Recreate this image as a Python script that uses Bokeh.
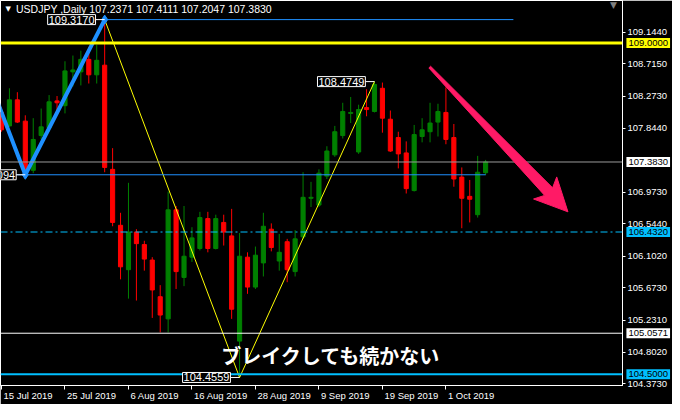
import math
import pandas as pd
from bokeh.plotting import figure
from bokeh.models import Range1d, FixedTicker, PrintfTickFormatter, Span, Label, LinearAxis
from bokeh.core.properties import value
from bokeh.embed import file_html
from bokeh.resources import INLINE

# ---------------- data ----------------
SYMBOL = "USDJPY"
TIMEFRAME = "Daily"
DATES = pd.bdate_range("2019-07-15", periods=62)

OPEN = [108.056, 107.873, 108.227, 107.938, 107.270, 107.742, 107.846, 108.213, 108.148, 108.607,
        108.607, 108.777, 108.567, 108.698, 107.283, 106.523, 105.920, 106.431, 106.261, 106.051,
        105.553, 105.252, 106.733, 105.815, 106.090, 106.208, 106.614, 106.208, 106.562, 106.379,
        104.950, 106.090, 105.684, 106.012, 106.470, 106.038, 106.300, 105.894, 106.366, 106.890,
        106.798, 107.191, 107.480, 107.742, 108.043, 107.519, 108.122, 108.069, 108.384, 107.964,
        107.715, 107.506, 106.995, 107.729, 107.794, 107.925, 108.056, 107.715, 107.178, 106.916,
        106.667, 107.2371]
HIGH = [108.122, 108.384, 108.331, 108.017, 107.978, 108.109, 108.292, 108.279, 108.751, 108.829,
        108.895, 108.947, 108.974, 109.317, 107.571, 106.693, 107.100, 106.470, 106.313, 106.090,
        105.710, 106.982, 106.785, 106.785, 106.497, 106.706, 106.706, 106.667, 106.667, 106.746,
        106.418, 106.156, 106.234, 106.693, 106.549, 106.405, 106.339, 106.457, 107.244, 107.113,
        107.283, 107.597, 107.873, 108.187, 108.266, 108.161, 108.371, 108.4749, 108.462, 108.082,
        107.794, 107.663, 107.886, 107.978, 108.187, 108.174, 108.397, 107.899, 107.309, 107.139,
        107.466, 107.4111]
LOW = [107.794, 107.860, 107.912, 107.2094, 107.231, 107.689, 107.794, 108.069, 108.043, 108.410,
       108.423, 108.449, 108.449, 107.244, 106.510, 105.789, 105.527, 105.501, 105.907, 105.265,
       105.068, 105.068, 105.658, 105.697, 106.025, 106.182, 106.156, 106.195, 106.248, 105.252,
       104.4559, 105.592, 105.658, 105.828, 106.169, 105.907, 105.750, 105.828, 106.339, 106.772,
       106.772, 107.152, 107.453, 107.702, 107.912, 107.493, 108.004, 108.056, 107.781, 107.519,
       107.296, 106.955, 106.982, 107.650, 107.650, 107.729, 107.624, 107.047, 106.483, 106.562,
       106.628, 107.2047]
CLOSE = [107.820, 108.227, 107.925, 107.270, 107.689, 107.860, 108.200, 108.187, 108.620, 108.633,
         108.777, 108.567, 108.764, 107.309, 106.562, 105.959, 106.431, 106.274, 106.064, 105.645,
         105.304, 106.733, 105.894, 106.103, 106.352, 106.628, 106.208, 106.614, 106.431, 105.383,
         106.103, 105.684, 106.117, 106.510, 106.221, 106.156, 105.920, 106.339, 106.903, 106.903,
         107.231, 107.532, 107.794, 108.069, 108.056, 108.095, 108.095, 108.436, 107.978, 107.532,
         107.493, 107.021, 107.755, 107.820, 107.912, 108.069, 107.689, 107.152, 106.890, 106.877,
         107.244, 107.3830]

TICK_LABELS = ["15 Jul 2019", "25 Jul 2019", "6 Aug 2019", "16 Aug 2019",
               "28 Aug 2019", "9 Sep 2019", "19 Sep 2019", "1 Oct 2019"]
PRICE_TICKS = [104.373, 104.802, 105.231, 105.673, 106.102, 106.544, 106.973,
               107.844, 108.273, 108.715, 109.144]

LEVEL_YELLOW = 109.0
LEVEL_CURRENT = CLOSE[-1]
LEVEL_DASHDOT = 106.432
LEVEL_WHITE = 105.0571
LEVEL_CYAN = 104.5

ZZ_BLUE_IDX = [-1, 3, 13]
ZZ_BLUE_PRICE = [108.343, 107.2094, 109.317]
ZZ_YEL_IDX = [13, 30, 47]
ZZ_YEL_PRICE = [109.317, 104.4559, 108.4749]

RAY_IDX0 = [13, -1]
RAY_IDX1 = [64.5, 61]
RAY_PRICE = [109.317, 107.2094]

ARROW_START = (53.96, 108.672)
ARROW_END = (71.375, 106.706)

NOTE = "ブレイクしても続かない"
NOTE_POS = (41.55, 104.753)

# ---------------- layout ----------------
X_START, X_END = -0.125, 78.25
Y_START, Y_END = 104.347, 109.5765
W, H = 672, 404
RIGHT, BOTTOM = 50, 19
FW, FH = W - RIGHT, H - BOTTOM
kx = FW / (X_END - X_START)
ky = FH / (Y_END - Y_START)

AXIS_FONT = "Liberation Sans"
AXIS_SIZE = 9.5
CHAR_W = {" ": 0.278, "J": 0.5, "u": 0.556, "l": 0.222, "A": 0.667, "g": 0.556, "S": 0.667,
          "e": 0.556, "p": 0.556, "O": 0.778, "c": 0.5, "t": 0.278}
def text_px(s, size):
    return sum(CHAR_W.get(ch, 0.556) for ch in s) * size

idx = list(range(len(OPEN)))
date_str = [f"{d.day} {d.strftime('%b %Y')}" for d in DATES]
TICK_IDX = [date_str.index(t) for t in TICK_LABELS]

p = figure(width=W, height=H,
           x_range=Range1d(X_START, X_END), y_range=Range1d(Y_START, Y_END),
           y_axis_location="right", output_backend="svg", toolbar_location=None,
           background_fill_color="black", border_fill_color="black",
           min_border_left=0, min_border_top=0,
           min_border_right=RIGHT, min_border_bottom=BOTTOM)
p.grid.visible = False
p.outline_line_color = "white"
p.outline_line_width = 1

# bottom axis: tick marks only
xax = p.xaxis[0]
xax.ticker = FixedTicker(ticks=TICK_IDX)
xax.major_label_overrides = {i: "" for i in TICK_IDX}
xax.major_label_text_font_size = "0px"
xax.major_label_standoff = 0
xax.axis_line_color = "white"
xax.major_tick_line_color = "white"
xax.major_tick_out = 4
xax.major_tick_in = 0
xax.minor_tick_line_color = None

# second bottom axis: left-aligned date texts (MT4 style)
label_pos = [i + (text_px(t, AXIS_SIZE) / 2 + 2) / kx for i, t in zip(TICK_IDX, TICK_LABELS)]
xax2 = LinearAxis(ticker=FixedTicker(ticks=label_pos),
                  major_label_overrides={pos: t for pos, t in zip(label_pos, TICK_LABELS)})
xax2.axis_line_color = None
xax2.major_tick_line_color = None
xax2.minor_tick_line_color = None
xax2.major_tick_out = 0
xax2.major_tick_in = 0
xax2.major_label_standoff = 0
xax2.major_label_text_color = "white"
xax2.major_label_text_font = AXIS_FONT
xax2.major_label_text_font_size = f"{AXIS_SIZE}px"
p.add_layout(xax2, "below")

yax = p.yaxis[0]
yax.ticker = FixedTicker(ticks=PRICE_TICKS)
yax.formatter = PrintfTickFormatter(format="%.4f")
yax.axis_line_color = "white"
yax.major_tick_line_color = "white"
yax.major_tick_out = 3
yax.major_tick_in = 0
yax.minor_tick_line_color = None
yax.major_label_standoff = 2
yax.major_label_text_color = "white"
yax.major_label_text_font = AXIS_FONT
yax.major_label_text_font_size = f"{AXIS_SIZE}px"

# ---------------- candles ----------------
BULL, BEAR = "#008000", "#FF0000"
colors = [BULL if c >= o else BEAR for o, c in zip(OPEN, CLOSE)]
tops = [max(o, c) for o, c in zip(OPEN, CLOSE)]
bots = [min(o, c) for o, c in zip(OPEN, CLOSE)]
p.segment(x0=idx, y0=LOW, x1=idx, y1=HIGH, line_color=colors, line_width=1)
p.vbar(x=idx, width=0.52, top=tops, bottom=bots, fill_color=colors, line_color=colors, line_width=1)

# ---------------- zigzags and rays ----------------
p.line(ZZ_YEL_IDX, ZZ_YEL_PRICE, line_color="#FFFF00", line_width=1)
p.line(ZZ_BLUE_IDX, ZZ_BLUE_PRICE, line_color="#1E90FF", line_width=4)
p.scatter(ZZ_BLUE_IDX[1:], ZZ_BLUE_PRICE[1:], marker="diamond", size=9, color="#1E90FF")
p.segment(x0=RAY_IDX0, y0=RAY_PRICE, x1=RAY_IDX1, y1=RAY_PRICE, line_color="#1E90FF", line_width=1)

# ---------------- horizontal levels ----------------
p.add_layout(Span(location=LEVEL_CURRENT, dimension="width", line_color="#9A9A9A", line_width=1))
p.add_layout(Span(location=LEVEL_YELLOW, dimension="width", line_color="#FFFF00", line_width=3))
p.add_layout(Span(location=LEVEL_DASHDOT, dimension="width", line_color="#00BFFF", line_width=1,
                  line_dash="7 3 2 3"))
p.add_layout(Span(location=LEVEL_WHITE, dimension="width", line_color="white", line_width=1))
p.add_layout(Span(location=LEVEL_CYAN, dimension="width", line_color="#00BFFF", line_width=2))

# ---------------- pink arrow ----------------
sx0, sy0 = ARROW_START[0] * kx, ARROW_START[1] * ky
sx1, sy1 = ARROW_END[0] * kx, ARROW_END[1] * ky
L = math.hypot(sx1 - sx0, sy1 - sy0)
ux, uy = (sx1 - sx0) / L, (sy1 - sy0) / L
nx, ny = -uy, ux
HEAD_LEN, HEAD_HW, W0, W1, BARB = 28.0, 16.0, 1.2, 5.5, 5.0
bx, by = sx1 - ux * HEAD_LEN, sy1 - uy * HEAD_LEN
poly = [
    (sx0 + nx * W0, sy0 + ny * W0),
    (bx + nx * W1, by + ny * W1),
    (bx + nx * HEAD_HW - ux * BARB, by + ny * HEAD_HW - uy * BARB),
    (sx1, sy1),
    (bx - nx * HEAD_HW - ux * BARB, by - ny * HEAD_HW - uy * BARB),
    (bx - nx * W1, by - ny * W1),
    (sx0 - nx * W0, sy0 - ny * W0),
]
arrow = p.patch([q[0] / kx for q in poly], [q[1] / ky for q in poly],
                fill_color="#FF1A66", line_color="#FF1A66", line_width=1)
arrow.level = "overlay"

# ---------------- zigzag value boxes ----------------
BOX_FONT = "Liberation Sans"
def value_box(i, price, off_bars=1.15):
    p.segment(x0=[i - off_bars], y0=[price], x1=[i], y1=[price], line_color="white", line_width=1)
    p.add_layout(Label(x=i - off_bars, y=price, text=f"{price:.4f}", text_align="right",
                       text_baseline="middle", text_color="white", text_font=BOX_FONT,
                       text_font_size="11px", background_fill_color="black",
                       border_line_color="white", border_line_width=1, padding=1))

value_box(ZZ_BLUE_IDX[2], ZZ_BLUE_PRICE[2])
value_box(ZZ_BLUE_IDX[1], ZZ_BLUE_PRICE[1])
value_box(ZZ_YEL_IDX[1], ZZ_YEL_PRICE[1])
value_box(ZZ_YEL_IDX[2], ZZ_YEL_PRICE[2])

# ---------------- right-axis highlighted prices (overlay text glyphs) ----------------
LEVELS = [LEVEL_YELLOW, LEVEL_CURRENT, LEVEL_DASHDOT, LEVEL_WHITE, LEVEL_CYAN]
LEVEL_BG = ["#FFFF00", "white", "#00BFFF", "white", "#00BFFF"]
hl = p.text(x=[X_END - 0.01] * len(LEVELS), y=LEVELS, text=[f"{v:.4f}" for v in LEVELS],
            x_offset=4, text_align="left", text_baseline="middle", text_color="black",
            text_font=value(AXIS_FONT), text_font_size=value(f"{AXIS_SIZE}px"),
            background_fill_color=LEVEL_BG, padding=2)
hl.level = "overlay"

# ---------------- header ----------------
p.add_layout(Label(x=X_START, y=Y_END, x_offset=5, y_offset=-8, text="▼", text_align="left",
                   text_baseline="middle", text_color="white", text_font="DejaVu Sans",
                   text_font_size="7px"))
header = f"{SYMBOL} ,{TIMEFRAME}  {OPEN[-1]:.4f} {HIGH[-1]:.4f} {LOW[-1]:.4f} {CLOSE[-1]:.4f}"
p.add_layout(Label(x=X_START, y=Y_END, x_offset=15.5, y_offset=-8, text=header, text_align="left",
                   text_baseline="middle", text_color="white", text_font=AXIS_FONT,
                   text_font_size="10.5px"))
p.add_layout(Label(x=X_END, y=Y_END, x_offset=-9, y_offset=1, text="▼", text_align="center",
                   text_baseline="top", text_color="#808080", text_font="DejaVu Sans",
                   text_font_size="9px"))

# ---------------- note ----------------
p.add_layout(Label(x=NOTE_POS[0], y=NOTE_POS[1], text=NOTE, text_align="center",
                   text_baseline="middle", text_color="white", text_font="Noto Sans CJK JP",
                   text_font_style="bold", text_font_size="20px"))

open("out.html", "w").write(file_html(p, INLINE))
